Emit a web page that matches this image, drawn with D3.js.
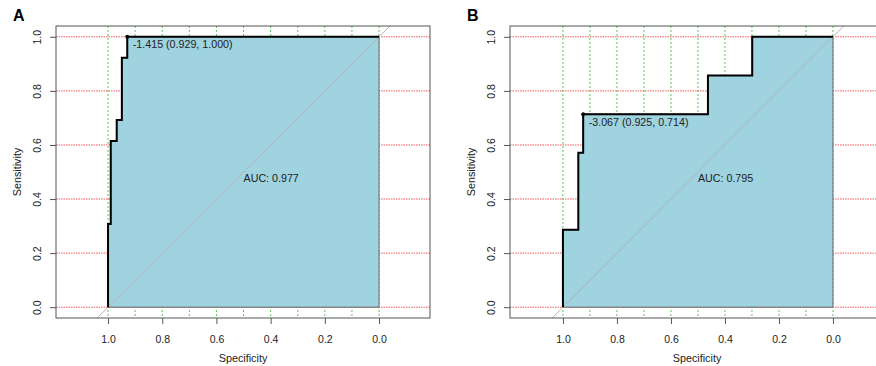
<!DOCTYPE html>
<html>
<head>
<meta charset="utf-8">
<script src="https://cdn.jsdelivr.net/npm/d3@7"></script>
<style>
  body { margin: 0; background: #fff; }
  svg { display: block; font-family: "Liberation Sans", Arial, sans-serif; }
  .tick-text { font-size: 10.5px; fill: #222; }
  .axis-text { font-size: 10.8px; fill: #222; }
</style>
</head>
<body>
<div class="chart"></div>
<script>
// Step 0: data
//= ================================
var specA = [1, 1, 0.990, 0.990, 0.968, 0.968, 0.949, 0.949, 0.929, 0.929, 0];
var sensA = [0, 0.308, 0.308, 0.615, 0.615, 0.692, 0.692, 0.923, 0.923, 1, 1];
var bestA = { spec: 0.929, sens: 1.0, label: "-1.415 (0.929, 1.000)" };
var aucA = "AUC: 0.977";

var specB = [1, 1, 0.943, 0.943, 0.925, 0.925, 0.463, 0.463, 0.299, 0.299, 0];
var sensB = [0, 0.286, 0.286, 0.571, 0.571, 0.714, 0.714, 0.857, 0.857, 1, 1];
var bestB = { spec: 0.925, sens: 0.714, label: "-3.067 (0.925, 0.714)" };
var aucB = "AUC: 0.795";

var tickValues = [1.0, 0.8, 0.6, 0.4, 0.2, 0.0];
var gridX = d3.range(0, 11).map(function(d) { return d / 10; });
var gridY = [0, 0.2, 0.4, 0.6, 0.8, 1.0];

var svgWidth = 876;
var svgHeight = 366;

var svg = d3
  .select(".chart")
  .append("svg")
  .attr("width", svgWidth)
  .attr("height", svgHeight);

// one panel = box, grid, auc polygon, curve, labels
function drawPanel(id, letter, left, right, xDomain, spec, sens, best, auc) {
  var top = 26;
  var bottom = 318;

  var xScale = d3.scaleLinear().domain(xDomain).range([left, right]);
  var yScale = d3.scaleLinear().domain([-0.04, 1.04]).range([bottom, top]);

  var pts = spec.map(function(s, i) { return [s, sens[i]]; });

  svg.append("clipPath")
    .attr("id", "clip" + id)
    .append("rect")
    .attr("x", left)
    .attr("y", top)
    .attr("width", right - left)
    .attr("height", bottom - top);

  var g = svg.append("g").attr("clip-path", "url(#clip" + id + ")");

  // grid lines (green every 0.1 on x, red every 0.2 on y)
  g.selectAll(".gx")
    .data(gridX)
    .enter()
    .append("line")
    .attr("x1", function(d) { return xScale(d); })
    .attr("x2", function(d) { return xScale(d); })
    .attr("y1", top)
    .attr("y2", bottom)
    .attr("stroke", "#5cc45c")
    .attr("stroke-width", 1)
    .attr("stroke-dasharray", "2,2");

  g.selectAll(".gy")
    .data(gridY)
    .enter()
    .append("line")
    .attr("x1", left)
    .attr("x2", right)
    .attr("y1", function(d) { return yScale(d); })
    .attr("y2", function(d) { return yScale(d); })
    .attr("stroke", "#f05a5a")
    .attr("stroke-width", 1)
    .attr("stroke-dasharray", "1.5,1");

  // area under the curve
  var poly = pts.concat([[0, 0], [1, 0]]);
  g.append("path")
    .attr("d", d3.line()
      .x(function(d) { return xScale(d[0]); })
      .y(function(d) { return yScale(d[1]); })(poly) + "Z")
    .attr("fill", "#9fd3e0")
    .attr("stroke", "#666")
    .attr("stroke-width", 1);

  // chance diagonal
  g.append("line")
    .attr("x1", xScale(1.3))
    .attr("y1", yScale(-0.3))
    .attr("x2", xScale(-0.3))
    .attr("y2", yScale(1.3))
    .attr("stroke", "#b4b4b4")
    .attr("stroke-width", 1);

  // ROC curve
  g.append("path")
    .attr("d", d3.line()
      .x(function(d) { return xScale(d[0]); })
      .y(function(d) { return yScale(d[1]); })(pts))
    .attr("fill", "none")
    .attr("stroke", "#000")
    .attr("stroke-width", 2);

  // best threshold
  g.append("circle")
    .attr("cx", xScale(best.spec))
    .attr("cy", yScale(best.sens))
    .attr("r", 2)
    .attr("fill", "#000");

  svg.append("text")
    .attr("x", xScale(best.spec) + 5.5)
    .attr("y", yScale(best.sens) + 11.5)
    .attr("class", "tick-text")
    .style("font-size", "10.7px")
    .text(best.label);

  svg.append("text")
    .attr("x", xScale(0.5))
    .attr("y", yScale(0.5) + 10)
    .attr("class", "tick-text")
    .style("font-size", "10.7px")
    .text(auc);

  // box
  svg.append("rect")
    .attr("x", left)
    .attr("y", top)
    .attr("width", right - left)
    .attr("height", bottom - top)
    .attr("fill", "none")
    .attr("stroke", "#555")
    .attr("stroke-width", 1);

  // axes
  var bottomAxis = d3.axisBottom(xScale).tickValues(tickValues).tickSize(6)
    .tickFormat(d3.format(".1f"));
  var leftAxis = d3.axisLeft(yScale).tickValues(tickValues).tickSize(6)
    .tickFormat(d3.format(".1f"));

  var xa = svg.append("g")
    .attr("transform", "translate(0," + bottom + ")")
    .call(bottomAxis);
  xa.select(".domain").remove();
  xa.selectAll("line").attr("stroke", "#555");
  xa.selectAll("text")
    .attr("class", "tick-text")
    .attr("y", 25)
    .attr("dy", null);

  var ya = svg.append("g")
    .attr("transform", "translate(" + left + ",0)")
    .call(leftAxis);
  ya.select(".domain").remove();
  ya.selectAll("line").attr("stroke", "#555");
  ya.selectAll("text")
    .attr("class", "tick-text")
    .attr("x", null)
    .attr("dy", null)
    .attr("text-anchor", "middle")
    .attr("transform", "translate(-15,0) rotate(-90)");
  ya.attr("font-size", null).attr("font-family", null);
  xa.attr("font-size", null).attr("font-family", null);

  // axis labels
  svg.append("text")
    .attr("class", "axis-text")
    .attr("text-anchor", "middle")
    .attr("x", (left + right) / 2)
    .attr("y", 362)
    .text("Specificity");

  svg.append("text")
    .attr("class", "axis-text")
    .attr("text-anchor", "middle")
    .attr("transform", "translate(" + (left - 35) + "," + ((top + bottom) / 2) + ") rotate(-90)")
    .text("Sensitivity");

  // panel letter
  svg.append("text")
    .attr("x", left - 43)
    .attr("y", 21)
    .style("font-size", "16px")
    .style("font-weight", "bold")
    .text(letter);
}

drawPanel("A", "A", 56, 430, [1.192, -0.188], specA, sensA, bestA, aucA);
drawPanel("B", "B", 510, 884, [1.196, -0.189], specB, sensB, bestB, aucB);
</script>
</body>
</html>
